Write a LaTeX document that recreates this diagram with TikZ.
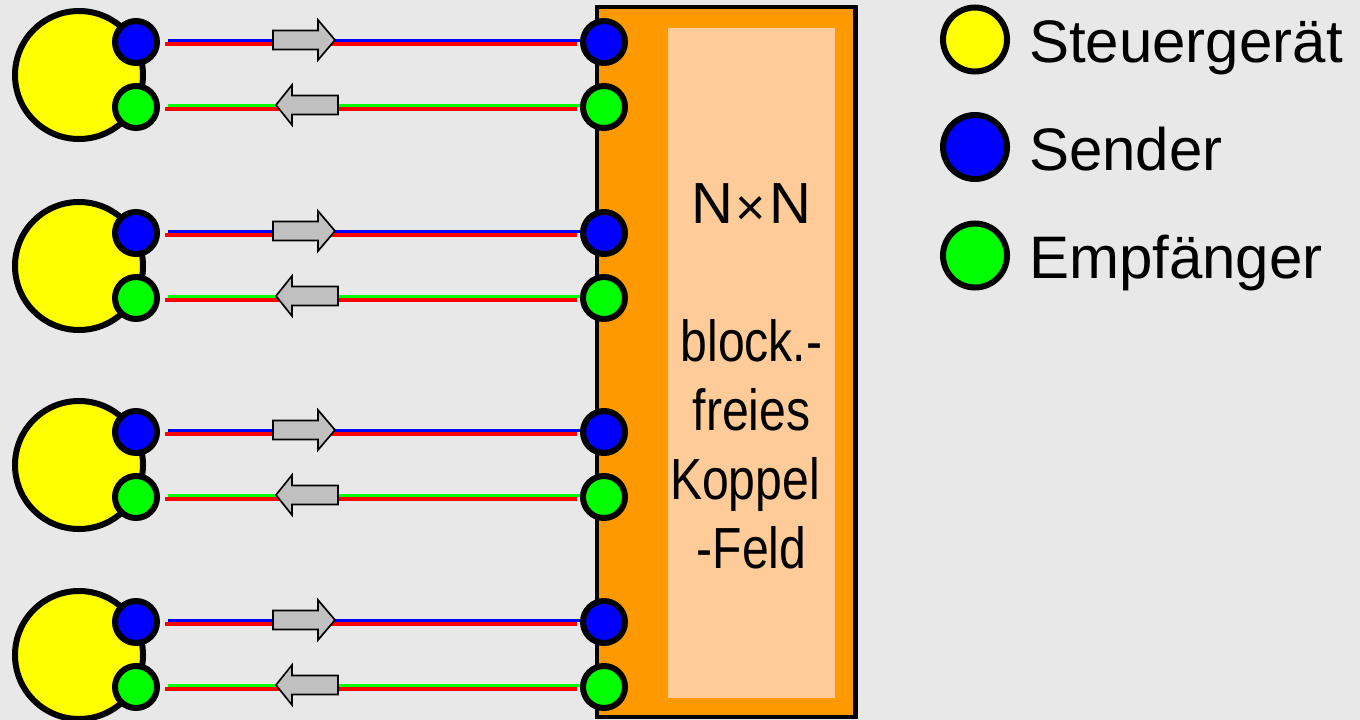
\documentclass[tikz,border=0pt]{standalone}
\usepackage{fontspec}
\setmainfont{Liberation Sans}
\newfontfamily\boxfont[FakeStretch=0.83]{Liberation Sans}
\usetikzlibrary{calc}
\definecolor{bg}{HTML}{E8E8E8}
\definecolor{ycol}{HTML}{FFFF00}
\definecolor{bcol}{HTML}{0000FF}
\definecolor{gcol}{HTML}{00FF00}
\definecolor{rcol}{HTML}{FF0000}
\definecolor{ocol}{HTML}{FF9900}
\definecolor{lcol}{HTML}{FFCC99}
\definecolor{acol}{HTML}{C0C0C0}
\pgfdeclarelayer{back}
\pgfdeclarelayer{wires}
\pgfsetlayers{back,wires,main}
\tikzset{
  unit/.style={circle, draw=black, line width=6pt, minimum size=42pt, inner sep=0pt},
  sendercirc/.style={unit, fill=bcol},
  recvcirc/.style={unit, fill=gcol},
  ctrlcirc/.style={circle, draw=black, line width=6pt, minimum size=128pt, inner sep=0pt, fill=ycol},
  legcirc/.style={circle, draw=black, line width=6pt, minimum size=64pt, inner sep=0pt},
  colline/.style={line width=3pt},
  redline/.style={line width=4.6pt, draw=rcol},
  arrowst/.style={draw=black, fill=acol, line width=1.7pt, line join=miter},
  legtext/.style={anchor=base west, inner sep=0pt, font=\fontsize{60}{70}\selectfont},
  rarrow/.pic={\draw[arrowst] (-62,-9.5) -- (-17,-9.5) -- (-17,-20) -- (0,0) -- (-17,20) -- (-17,9.5) -- (-62,9.5) -- cycle;},
  larrow/.pic={\draw[arrowst] (62,-9.5) -- (16,-9.5) -- (16,-20) -- (0,0) -- (16,20) -- (16,9.5) -- (62,9.5) -- cycle;}
}
\begin{document}
\begin{tikzpicture}[x=1pt,y=-1pt]
\begin{pgfonlayer}{back}
\fill[bg] (0,0) rectangle (1360,720);
% switch box
\node (box) [rectangle, fill=ocol, draw=black, line width=4.3pt, minimum width=258.5pt, minimum height=710pt, inner sep=0pt, outer sep=0pt] at (726.25,362) {};
\node (inner) [rectangle, fill=lcol, minimum width=167pt, minimum height=670pt, inner sep=0pt] at (751.5,363) {};
\end{pgfonlayer}
\useasboundingbox (0,0) rectangle (1360,720);
\node (label) [anchor=north, inner sep=0pt, align=center, font={\boxfont\fontsize{58}{69}\selectfont}] at (751.5,183.5)
  {{\rmfamily N\kern2pt\raisebox{-2pt}{\fontsize{52}{52}\selectfont ×}\kern3pt N}\\[69pt]block.-\\freies\\Koppel\kern13pt\\-Feld};
% groups
\foreach \i/\y in {1/42,2/233,3/432,4/622}{
  \node (C\i) [ctrlcirc] at (79,\y+33) {};
  \node (LS\i) [sendercirc] at (136,\y) {};
  \node (LR\i) [recvcirc] at (136,\y+65) {};
  \node (RS\i) [sendercirc] at (604,\y) {};
  \node (RR\i) [recvcirc] at (604,\y+65) {};
  \begin{pgfonlayer}{wires}
  \draw[colline, draw=bcol] ($(LS\i.east)+(8,-2)$) -- ($(RS\i.center)+(0,-2)$);
  \draw[redline] ($(LS\i.east)+(5,2)$) -- ($(RS\i.west)+(-3,2)$);
  \draw[colline, draw=gcol] ($(LR\i.east)+(8,-2)$) -- ($(RR\i.center)+(0,-2)$);
  \draw[redline] ($(LR\i.east)+(5,2)$) -- ($(RR\i.west)+(-3,2)$);
  \end{pgfonlayer}
  \pic at (335,\y-2) {rarrow};
  \pic at (276,\y+63) {larrow};
}
% legend
\node (legY) [legcirc, fill=ycol] at (975,39.5) {};
\node (legB) [legcirc, fill=bcol] at (975,147) {};
\node (legG) [legcirc, fill=gcol] at (975,255.5) {};
\node (legYt) [legtext] at (1029,62) {Steuergerät};
\node (legBt) [legtext] at (1029,170) {Sender};
\node (legGt) [legtext] at (1029,278) {Empfänger};
\end{tikzpicture}
\end{document}
